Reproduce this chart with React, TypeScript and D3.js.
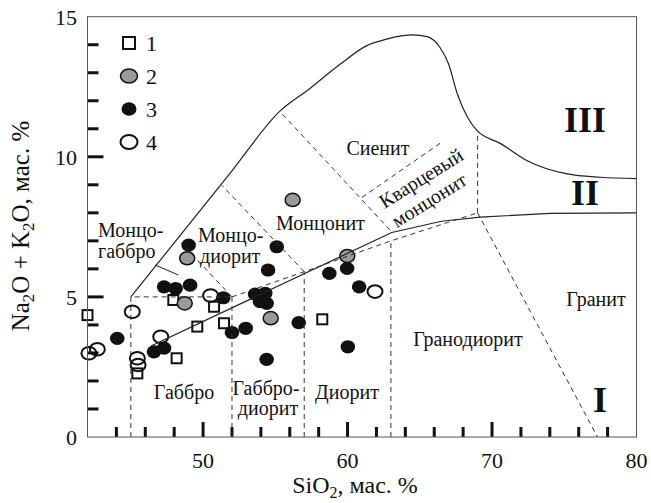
import React from "react";
import * as d3 from "d3";

// SiO2 vs Na2O+K2O (TAS, plutonic)
const xMinorTicks = [44, 46, 48, 50, 52, 54, 56, 58, 60, 62, 64, 66, 68, 70, 72, 74, 76, 78];
const xMajorTicks = [50, 60, 70];
const yMinorTicks = [1, 2, 3, 4, 5, 6, 7, 8, 9, 10, 11, 12, 13, 14];
const yMajorTicks = [5, 10];
const xTickLabels = [50, 60, 70, 80];
const yTickLabels = [0, 5, 10, 15];

// series 1..4
const squares = [[42.0, 4.35], [47.94, 4.89], [50.76, 4.65], [49.6, 3.94], [51.45, 4.06], [48.17, 2.81], [45.45, 2.27], [58.25, 4.2]];
const grayDots = [[48.9, 6.38], [48.73, 4.77], [54.68, 4.24], [56.2, 8.46], [59.98, 6.46]];
const blackDots = [[44.06, 3.52], [46.6, 3.04], [47.3, 3.17], [47.3, 5.36], [48.1, 5.3], [49.1, 5.42], [49.0, 6.85], [51.4, 4.97], [52.0, 3.73], [52.95, 3.88], [53.6, 5.1], [54.3, 5.13], [53.94, 4.83], [54.4, 4.77], [55.1, 6.79], [54.5, 5.96], [54.4, 2.77], [56.62, 4.08], [58.74, 5.84], [59.97, 6.02], [60.8, 5.36], [60.02, 3.22]];
const openDots = [[45.1, 4.47], [42.1, 2.99], [42.68, 3.13], [47.07, 3.58], [45.45, 2.81], [45.5, 2.57], [50.52, 5.05], [61.9, 5.19]];

// boundary lines
const outerBoundary = [[45, 5], [52, 9.5], [55.3, 11.62], [57.4, 12.44], [59.5, 13.31], [61.3, 13.96], [62.7, 14.2], [64.5, 14.35], [65.5, 14.29], [66.4, 13.9], [67.0, 13.3], [67.6, 12.24], [68.3, 11.41], [68.95, 10.94], [70.6, 10.47], [72.4, 9.87], [75.2, 9.39], [77.5, 9.27], [80, 9.22]];
const alkalineLine = [[46.4, 3.25], [63.06, 7.3], [66.5, 7.7], [69.2, 7.85], [74, 7.98], [80, 8.0]];
const fieldBoundaries = [
  [[45, 0], [45, 5], [52, 5]],
  [[52, 0], [52, 5]],
  [[52, 5], [57, 5.9], [63, 7], [69, 8]],
  [[57, 0], [57, 5.9]],
  [[63, 0], [63, 7]],
  [[69, 8], [77.3, 0]],
  [[69, 8], [69, 10.9]],
  [[52, 5], [48.5, 6.92]],
  [[57, 5.9], [51.3, 8.98]],
  [[55.5, 11.52], [63.0, 7.35]],
  [[61.0, 8.55], [66.4, 10.48]],
];
const leaderLine = [[46.68, 6.14], [48.3, 5.78]];

const legendItems = ["1", "2", "3", "4"];

const fieldNames = [
  { t: "Монцо-", x: 98, y: 237, a: "start" },
  { t: "габбро", x: 98, y: 258, a: "start" },
  { t: "Монцо-", x: 198, y: 242, a: "start" },
  { t: "диорит", x: 200, y: 263, a: "start" },
  { t: "Монцонит", x: 276, y: 230, a: "start" },
  { t: "Сиенит", x: 378, y: 155, a: "middle" },
  { t: "Габбро", x: 184, y: 399, a: "middle" },
  { t: "Габбро-", x: 266, y: 395, a: "middle" },
  { t: "диорит", x: 268, y: 415, a: "middle" },
  { t: "Диорит", x: 347, y: 399, a: "middle" },
  { t: "Гранодиорит", x: 468, y: 346, a: "middle" },
  { t: "Гранит", x: 596, y: 306, a: "middle" },
];

const romanLabels = [
  { t: "III", x: 585, y: 132 },
  { t: "II", x: 585, y: 205 },
  { t: "I", x: 600, y: 412 },
];

const W = 651;
const H = 503;
const FONT = "'Liberation Serif', 'Times New Roman', serif";

export default function App() {
  const x = d3.scaleLinear().domain([42, 80]).range([87.5, 636.5]);
  const y = d3.scaleLinear().domain([0, 15]).range([437, 16.7]);
  const lineLin = d3.line<number[]>().x((d) => x(d[0])).y((d) => y(d[1]));
  const lineSmooth = d3
    .line<number[]>()
    .x((d) => x(d[0]))
    .y((d) => y(d[1]))
    .curve(d3.curveMonotoneX);

  const x0 = x.range()[0];
  const y0 = y.range()[0];

  return (
    <svg width={W} height={H} style={{ position: "absolute", left: 0, top: 0, background: "#fff" }} fontFamily={FONT}>
      <rect x={0} y={0} width={W} height={H} fill="#fff" />

      {/* ticks */}
      {yMinorTicks.map((v) => (
        <line key={"yt" + v} x1={x0} x2={x0 + (yMajorTicks.includes(v) ? 16 : 11)} y1={y(v)} y2={y(v)} stroke="#111" strokeWidth={3} />
      ))}
      {xMinorTicks.map((v) => (
        <line key={"xt" + v} x1={x(v)} x2={x(v)} y1={y0} y2={y0 - (xMajorTicks.includes(v) ? 15 : 10)} stroke="#111" strokeWidth={3} />
      ))}

      {/* markers */}
      {squares.map((d, i) => (
        <rect key={"s" + i} x={x(d[0]) - 5} y={y(d[1]) - 5} width={10} height={10} fill="none" stroke="#111" strokeWidth={2} />
      ))}
      {openDots.map((d, i) => (
        <ellipse key={"o" + i} cx={x(d[0])} cy={y(d[1])} rx={7.5} ry={6.3} fill="none" stroke="#111" strokeWidth={2} />
      ))}
      {blackDots.map((d, i) => (
        <ellipse key={"b" + i} cx={x(d[0])} cy={y(d[1])} rx={7.3} ry={6.6} fill="#111" />
      ))}
      {grayDots.map((d, i) => (
        <ellipse key={"g" + i} cx={x(d[0])} cy={y(d[1])} rx={7.5} ry={6.6} fill="#9a9a9a" stroke="#111" strokeWidth={1.5} />
      ))}

      {/* boundaries */}
      <path d={lineSmooth(outerBoundary) || ""} fill="none" stroke="#222" strokeWidth={1.2} />
      <path d={lineLin(alkalineLine) || ""} fill="none" stroke="#222" strokeWidth={1.2} />
      <path d={lineLin(leaderLine) || ""} fill="none" stroke="#222" strokeWidth={1} />
      {fieldBoundaries.map((seg, i) => (
        <path key={"f" + i} d={lineLin(seg) || ""} fill="none" stroke="#333" strokeWidth={1} strokeDasharray="5,4" />
      ))}

      {/* frame */}
      <rect x={x0} y={y.range()[1]} width={x.range()[1] - x0} height={y0 - y.range()[1]} fill="none" stroke="#555" strokeWidth={1} />

      {/* field names */}
      {fieldNames.map((f, i) => (
        <text key={"n" + i} x={f.x} y={f.y} textAnchor={f.a as any} fontSize={20} fill="#111">
          {f.t}
        </text>
      ))}
      <g transform="translate(421,178) rotate(-32)">
        <text x={0} y={0} textAnchor="middle" dominantBaseline="central" fontSize={20} fill="#111">Кварцевый</text>
      </g>
      <g transform="translate(429,200) rotate(-32)">
        <text x={0} y={0} textAnchor="middle" dominantBaseline="central" fontSize={20} fill="#111">монцонит</text>
      </g>
      {romanLabels.map((r, i) => (
        <text key={"r" + i} x={r.x} y={r.y} textAnchor="middle" fontSize={36} fontWeight="bold" fill="#111">
          {r.t}
        </text>
      ))}

      {/* legend */}
      {legendItems.map((t, i) => {
        const cy = 43 + i * 33;
        return (
          <g key={"l" + i}>
            {i === 0 && <rect x={123} y={cy - 6} width={12} height={12} fill="none" stroke="#111" strokeWidth={2} />}
            {i === 1 && <ellipse cx={129} cy={cy} rx={8.5} ry={7} fill="#9a9a9a" stroke="#111" strokeWidth={1.5} />}
            {i === 2 && <ellipse cx={129} cy={cy} rx={7.5} ry={6.8} fill="#111" />}
            {i === 3 && <ellipse cx={129} cy={cy} rx={8.5} ry={7} fill="none" stroke="#111" strokeWidth={2} />}
            <text x={146} y={cy + 8} fontSize={22} fill="#111">{t}</text>
          </g>
        );
      })}

      {/* tick labels */}
      {xTickLabels.map((v) => (
        <text key={"xl" + v} x={x(v)} y={468} textAnchor="middle" fontSize={22} fill="#111">{v}</text>
      ))}
      {yTickLabels.map((v) => (
        <text key={"yl" + v} x={77} y={y(v) + 8} textAnchor="end" fontSize={22} fill="#111">{v}</text>
      ))}

      {/* axis titles */}
      <text x={355} y={493} textAnchor="middle" fontSize={24} fill="#111">
        SiO<tspan dy={5} fontSize={16}>2</tspan><tspan dy={-5}>, мас. %</tspan>
      </text>
      <text transform="translate(29,226) rotate(-90)" textAnchor="middle" fontSize={25} fill="#111">
        Na<tspan dy={5} fontSize={17}>2</tspan><tspan dy={-5}>O + K</tspan><tspan dy={5} fontSize={17}>2</tspan><tspan dy={-5}>O, мас. %</tspan>
      </text>
    </svg>
  );
}
